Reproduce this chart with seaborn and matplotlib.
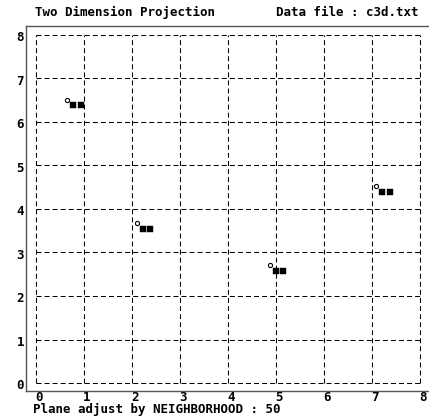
import matplotlib
matplotlib.use("Agg")
import matplotlib.pyplot as plt
import seaborn as sns
import pandas as pd

# Projected cluster centres (open circles) and the two adjusted neighbours (filled squares)
circle_x = [0.65, 2.10, 4.875, 7.08]
circle_y = [6.50, 3.67, 2.71, 4.53]
square_x = [0.78, 0.93, 2.22, 2.375, 5.01, 5.15, 7.21, 7.37]
square_y = [6.39, 6.39, 3.54, 3.54, 2.57, 2.57, 4.39, 4.39]
tick_values = [0, 1, 2, 3, 4, 5, 6, 7, 8]
title_left = "Two Dimension Projection"
title_right = "Data file : c3d.txt"
footer = "Plane adjust by NEIGHBORHOOD : 50"

sns.set_style("white")
plt.rcParams["font.family"] = ["DejaVu Sans Mono"]
plt.rcParams["lines.scale_dashes"] = False

W, H = 429, 419
fig = plt.figure(figsize=(W / 100, H / 100), dpi=100)
fig.patch.set_facecolor("white")

left, right, top, bottom = 26, 429, 26, 391
ax = fig.add_axes([left / W, (H - bottom) / H, (right - left) / W, (bottom - top) / H])
ax.set_facecolor("white")

# px per unit: 48 horizontally, 43.5 vertically; origin at (36, 383)
ax.set_xlim((left - 36) / 48, (right - 36) / 48)
ax.set_ylim(8 - (bottom - 35) / 43.5, 8 + (35 - top) / 43.5)

dash = (0, (3.6, 2.2))
ax.vlines(tick_values, 0, 8, colors="black", linewidth=0.75, linestyles=[dash])
ax.hlines(tick_values, 0, 8, colors="black", linewidth=0.75, linestyles=[dash])

pts_c = pd.DataFrame({"x": circle_x, "y": circle_y})
pts_s = pd.DataFrame({"x": square_x, "y": square_y})
sns.scatterplot(data=pts_c, x="x", y="y", ax=ax, marker="o", s=9,
                facecolor="white", edgecolor="black", linewidth=0.8, zorder=3)
sns.scatterplot(data=pts_s, x="x", y="y", ax=ax, marker="s", s=24,
                color="black", edgecolor="black", linewidth=0.3, zorder=4)

ax.set_xlabel("")
ax.set_ylabel("")
ax.set_xticks([])
ax.set_yticks([])
for side in ("left", "top", "bottom"):
    ax.spines[side].set_color("#555555")
    ax.spines[side].set_linewidth(1.0)
ax.spines["right"].set_visible(False)

txt = dict(fontsize=9, fontweight="bold", color="black")
for v in tick_values:
    ax.text(v + 0.06, -0.18, str(v), ha="center", va="top", transform=ax.transData,
            clip_on=False, **txt)
    ax.text(-0.33, v - 0.06, str(v), ha="center", va="center", transform=ax.transData,
            clip_on=False, **txt)

fig.text(35 / W, 1 - 12 / H, title_left, ha="left", va="center", **txt)
fig.text(276 / W, 1 - 12 / H, title_right, ha="left", va="center", **txt)
fig.text(33 / W, 1 - 409 / H, footer, ha="left", va="center", **txt)

fig.savefig("out.png", dpi=100, facecolor="white")
